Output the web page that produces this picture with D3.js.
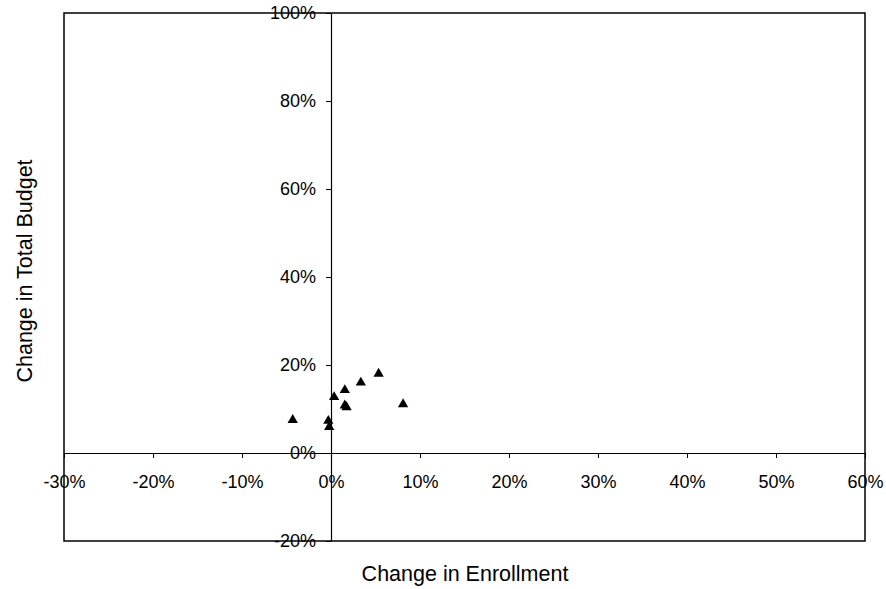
<!DOCTYPE html>
<html><head><meta charset="utf-8">
<script src="https://cdn.jsdelivr.net/npm/d3@7"></script>
<style>body{margin:0;background:#fff}</style>
</head><body>
<svg id="c" width="886" height="589"></svg>
<script>
const enrollmentChange = [-4.3, -0.3, -0.2, 0.35, 1.55, 1.55, 1.75, 3.35, 5.35, 8.1];
const budgetChange     = [ 7.5,  7.3,  5.9, 12.7, 14.3, 10.8, 10.4, 16.0, 18.0, 11.1];
const xTicks = [-30, -20, -10, 0, 10, 20, 30, 40, 50, 60];
const yTicks = [-20, 0, 20, 40, 60, 80, 100];
const xTitle = "Change in Enrollment";
const yTitle = "Change in Total Budget";

const svg = d3.select("#c");
const x = d3.scaleLinear().domain([-30, 60]).range([64, 865]);
const y = d3.scaleLinear().domain([-20, 100]).range([541, 13]);
const font = "'Liberation Sans', Arial, sans-serif";

// frame
svg.append("rect").attr("x", x(-30)).attr("y", y(100))
  .attr("width", x(60) - x(-30)).attr("height", y(-20) - y(100))
  .attr("fill", "none").attr("stroke", "#000").attr("stroke-width", 1.5);

// x axis at y=0
const xa = svg.append("g").attr("transform", `translate(0,${y(0)})`)
  .call(d3.axisBottom(x).tickValues(xTicks).tickSize(5).tickSizeOuter(0).tickFormat(d => d + "%"));
xa.select(".domain").attr("stroke", "#000").attr("stroke-width", 1.2);
xa.selectAll("text").attr("font-family", font).attr("font-size", 18).attr("fill", "#000").attr("dy", "1.5em");

// y axis at x=0
const ya = svg.append("g").attr("transform", `translate(${x(0)},0)`)
  .call(d3.axisLeft(y).tickValues(yTicks).tickSize(5).tickSizeOuter(0).tickFormat(d => d + "%"));
ya.select(".domain").attr("stroke", "#000").attr("stroke-width", 1.2);
ya.selectAll("text").attr("font-family", font).attr("font-size", 18).attr("fill", "#000").attr("x", -15);

// points
const tri = d3.symbol().type(d3.symbolTriangle).size(46);
svg.append("g").selectAll("path").data(enrollmentChange).join("path")
  .attr("d", tri)
  .attr("transform", (d, i) => `translate(${x(d)},${y(budgetChange[i])})`)
  .attr("fill", "#000");

// titles
svg.append("text").attr("x", 465).attr("y", 581).attr("text-anchor", "middle")
  .attr("font-family", font).attr("font-size", 21.5).text(xTitle);
svg.append("text").attr("transform", "translate(32,271) rotate(-90)").attr("text-anchor", "middle")
  .attr("font-family", font).attr("font-size", 21.5).text(yTitle);
</script>
</body></html>
